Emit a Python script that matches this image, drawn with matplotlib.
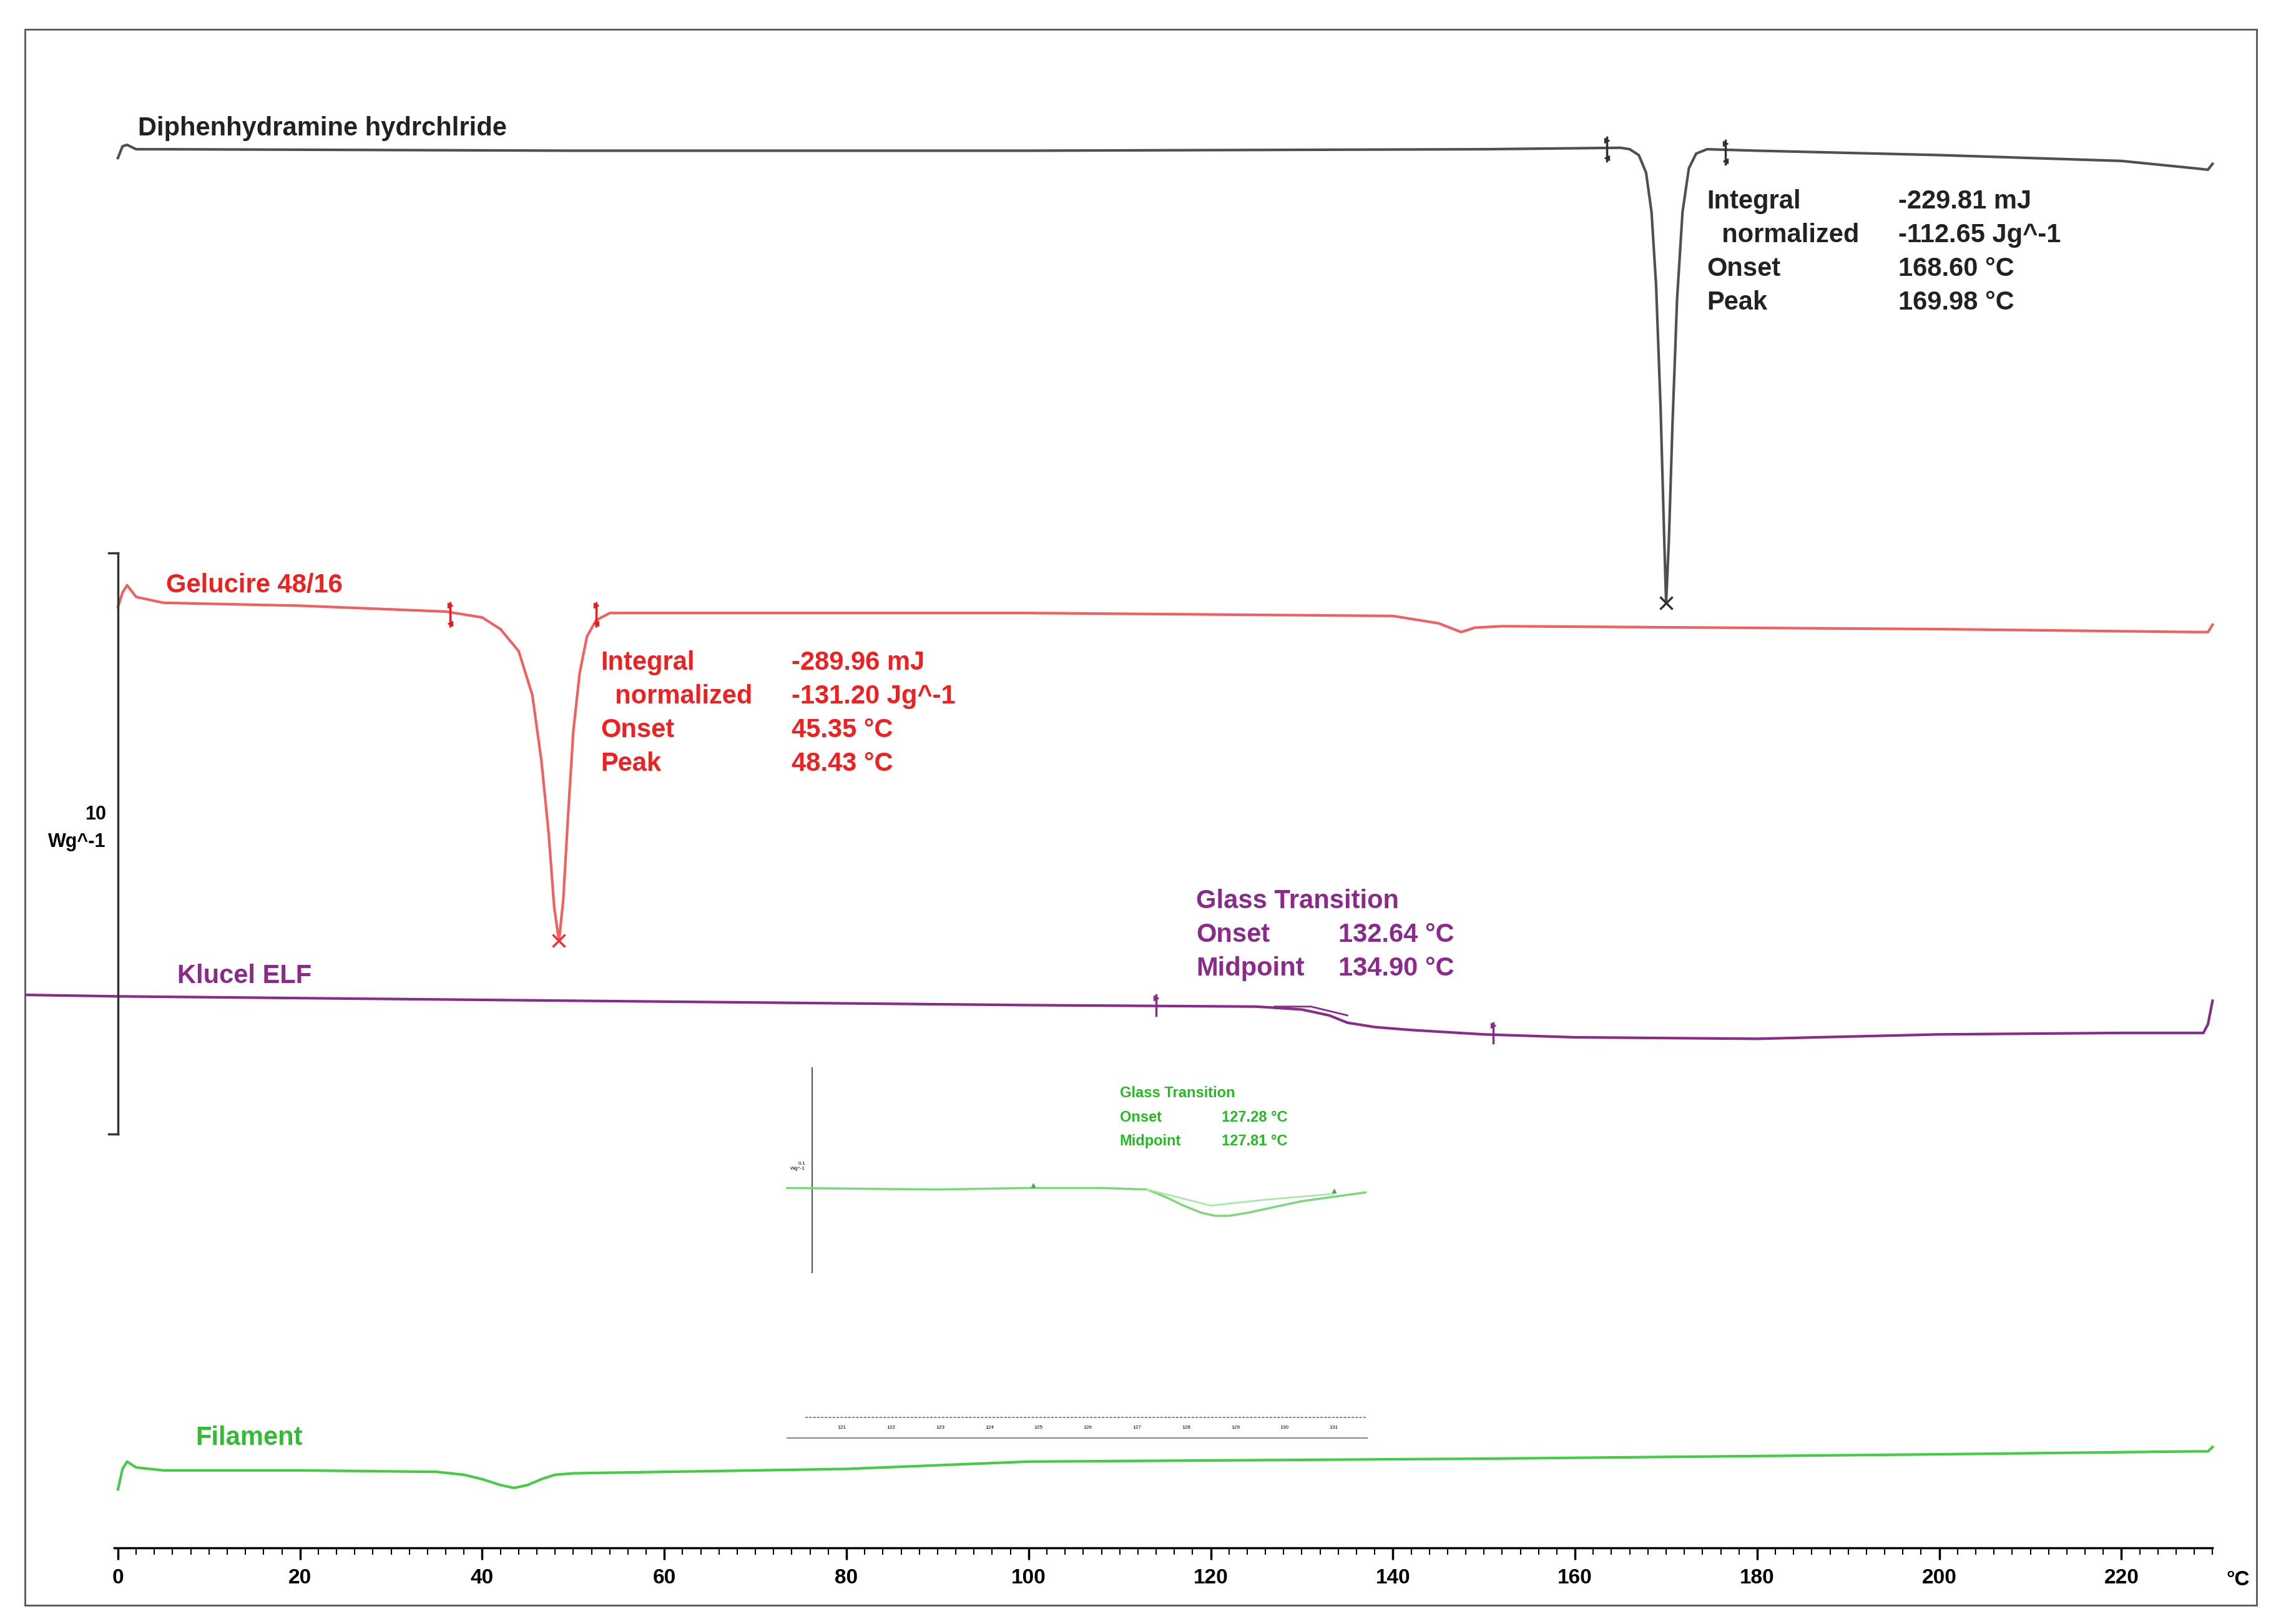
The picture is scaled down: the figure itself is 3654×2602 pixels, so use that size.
import matplotlib
matplotlib.use("Agg")
import matplotlib.pyplot as plt
import numpy as np
from matplotlib.patches import Rectangle

plt.rcParams['font.family'] = ['Liberation Sans', 'DejaVu Sans']

# ---- data (temperature °C, heat-flow offset units, downward = endothermic) ----
diph_T = [0, 0.5, 1, 2, 5, 50, 100, 150, 165, 166, 167, 167.8, 168.4, 168.9, 169.4, 169.8, 170.0,
          170.3, 170.7, 171.2, 171.8, 172.5, 173.3, 174.5, 180, 200, 220, 228, 229.5, 230]
diph_y = [108, 100, 99, 102, 102, 103, 103, 102, 101, 102, 106, 118, 145, 195, 280, 370, 412,
          370, 290, 205, 145, 115, 105, 102, 103, 106, 110, 115, 116, 112]
gel_T = [0, 0.5, 1, 2, 5, 20, 36, 40, 42, 44, 45.5, 46.5, 47.3, 47.9, 48.43, 48.9, 49.4, 50, 50.7,
         51.5, 52.5, 54, 100, 140, 145, 147.5, 149, 152, 200, 228, 229.5, 230]
gel_y = [415, 405, 400, 408, 412, 414, 418, 422, 430, 445, 475, 520, 570, 620, 643, 615, 560, 500, 460,
         435, 424, 419, 419, 421, 426, 432, 429, 428, 430, 432, 432, 427]
klu_T = [-10.2, 0, 50, 100, 125, 130, 133, 135, 138, 142, 150, 160, 180, 200, 220, 229, 229.5, 230]
klu_y = [680, 681, 684, 687, 688, 690, 694, 699, 702, 704, 707, 709, 710, 707, 706, 706, 700, 684]
fil_T = [0, 0.5, 1, 2, 5, 20, 35, 38, 40, 42, 43.5, 45, 46.5, 48, 50, 60, 80, 100, 150, 200, 228, 229.5, 230]
fil_y = [1018, 1004, 999, 1003, 1005, 1005, 1006, 1008, 1011, 1015, 1017, 1015, 1011, 1008, 1007, 1006,
         1004, 999, 997, 994, 992, 992, 989]

# inset (glass transition of filament)
ins_T = [73.5, 90, 100, 108, 113, 115, 117, 119, 120.5, 122, 124, 127, 130, 137]
ins_y = [812, 813, 812, 812, 813, 818, 824, 829, 831, 831, 829, 825, 821, 815]
ins_base_T = [113, 120, 126, 133.5]
ins_base_y = [813, 824, 820, 816]
ins_ticks = ["121", "122", "123", "124", "125", "126", "127", "128", "129", "130", "131"]

W, H = 1567, 1110
fig = plt.figure(figsize=(36.55, 26.02), dpi=100)
x0, x1 = 17, 1550
y0, y1 = 20, 1097
ax = fig.add_axes([x0 / W, 1 - y1 / H, (x1 - x0) / W, (y1 - y0) / H])
ppd = (1457 - 81) / 220.0
ax.set_xlim((x0 - 81) / ppd, (x1 - 81) / ppd)
ax.set_ylim(y1, y0)
fig.patches.append(Rectangle((x0 / W, 1 - y1 / H), (x1 - x0) / W, (y1 - y0) / H,
                             transform=fig.transFigure, fill=False, ec="#555555", lw=2))
for s in ["top", "left", "right"]:
    ax.spines[s].set_visible(False)
ax.spines["bottom"].set_position(("data", 1058))
ax.spines["bottom"].set_bounds(-0.4, 230)
ax.spines["bottom"].set_linewidth(2.5)
ax.set_yticks([])
ax.set_xticks(np.arange(0, 221, 20))
ax.set_xticks(np.arange(0, 231, 2), minor=True)
ax.tick_params(axis="x", which="major", length=14, width=2.5, labelsize=24, pad=10)
ax.tick_params(axis="x", which="minor", length=8, width=1.5)
for t in ax.get_xticklabels():
    t.set_fontweight("bold")
ax.text(231.5, 1080, "°C", fontsize=24, fontweight="bold", va="center", ha="left")

lw = 3
ax.plot(diph_T, diph_y, color="#505050", lw=lw)
ax.plot(gel_T, gel_y, color="#f06060", lw=lw)
ax.plot(klu_T, klu_y, color="#8a2a8a", lw=lw)
ax.plot(fil_T, fil_y, color="#44cc44", lw=lw)
ax.plot([170.0], [412], marker="x", color="#303030", ms=14, mew=2.5)
ax.plot([48.43], [643], marker="x", color="#ee3030", ms=14, mew=2.5)

for T, y, c in [(163.5, 102, "#303030"), (176.5, 104, "#303030"),
                (36.5, 420, "#e02020"), (52.5, 420, "#e02020")]:
    ax.plot([T, T], [y - 8, y + 8], color=c, lw=2.5)
    ax.plot([T], [y - 6], marker=">", color=c, ms=6)
    ax.plot([T], [y + 6], marker="<", color=c, ms=6)
for T, y in [(114, 686), (151, 705)]:
    ax.plot([T, T], [y - 6, y + 8], color="#8a2a8a", lw=2.5)
    ax.plot([T], [y - 4], marker=">", color="#8a2a8a", ms=6)
ax.plot([127, 131, 135], [688, 688, 694], color="#8a2a8a", lw=2)

fs = 30
ax.text(2.2, 88, "Diphenhydramine hydrchlride", fontsize=fs, fontweight="bold", color="#222222", va="center")
ax.text(5.3, 400, "Gelucire 48/16", fontsize=fs, fontweight="bold", color="#ee2020", va="center")
ax.text(6.5, 667, "Klucel ELF", fontsize=fs, fontweight="bold", color="#8a2a8a", va="center")
ax.text(8.5, 983, "Filament", fontsize=fs, fontweight="bold", color="#33bb33", va="center")

def block(x, xv, ytop, labels, vals, color, dy=23):
    for i, (l, v) in enumerate(zip(labels, vals)):
        ax.text(x, ytop + i * dy, l, fontsize=fs, fontweight="bold", color=color, va="center")
        ax.text(xv, ytop + i * dy, v, fontsize=fs, fontweight="bold", color=color, va="center")

block(174.5, 195.5, 138, ["Integral", "  normalized", "Onset", "Peak"],
      ["-229.81 mJ", "-112.65 Jg^-1", "168.60 °C", "169.98 °C"], "#222222")
block(53, 74, 453, ["Integral", "  normalized", "Onset", "Peak"],
      ["-289.96 mJ", "-131.20 Jg^-1", "45.35 °C", "48.43 °C"], "#ee2020")
ax.text(118.4, 616, "Glass Transition", fontsize=fs, fontweight="bold", color="#8a2a8a", va="center")
block(118.4, 134, 639, ["Onset", "Midpoint"], ["132.64 °C", "134.90 °C"], "#8a2a8a")

ax.plot([0, 0], [378, 775], color="#333333", lw=2.5)
ax.plot([-1, 0], [378, 378], color="#333333", lw=2.5)
ax.plot([-1, 0], [775, 775], color="#333333", lw=2.5)
ax.text(-1.3, 566, "10\nWg^-1", fontsize=22, fontweight="bold", ha="right", va="center", linespacing=1.6)

ax.plot([76.2, 76.2], [730, 870], color="#555555", lw=1.5)
ax.text(75.5, 797, "0.1\nWg^-1", fontsize=6, ha="right", va="center")
ax.plot(ins_T, ins_y, color="#7ad87a", lw=2.5)
ax.plot(ins_base_T, ins_base_y, color="#a8e8a8", lw=2)
for T, y in [(100.5, 812), (133.5, 816)]:
    ax.plot([T], [y - 2], marker="^", color="#44aa44", ms=4)
ax.text(110, 747, "Glass Transition", fontsize=17, fontweight="bold", color="#22bb22", va="center")
ax.text(110, 764, "Onset", fontsize=17, fontweight="bold", color="#22bb22", va="center")
ax.text(121.2, 764, "127.28 °C", fontsize=17, fontweight="bold", color="#22bb22", va="center")
ax.text(110, 780, "Midpoint", fontsize=17, fontweight="bold", color="#22bb22", va="center")
ax.text(121.2, 780, "127.81 °C", fontsize=17, fontweight="bold", color="#22bb22", va="center")
ax.plot([75.5, 137.2], [969, 969], color="#888888", lw=1.5, ls=(0, (2, 1)))
ax.plot([73.5, 137.2], [983, 983], color="#888888", lw=1.5)
for i, lab in enumerate(ins_ticks):
    T = 79.5 + i * 5.4
    ax.text(T, 976, lab, fontsize=6, ha="center", va="center")

fig.savefig("out.png", dpi=100, facecolor="white")
